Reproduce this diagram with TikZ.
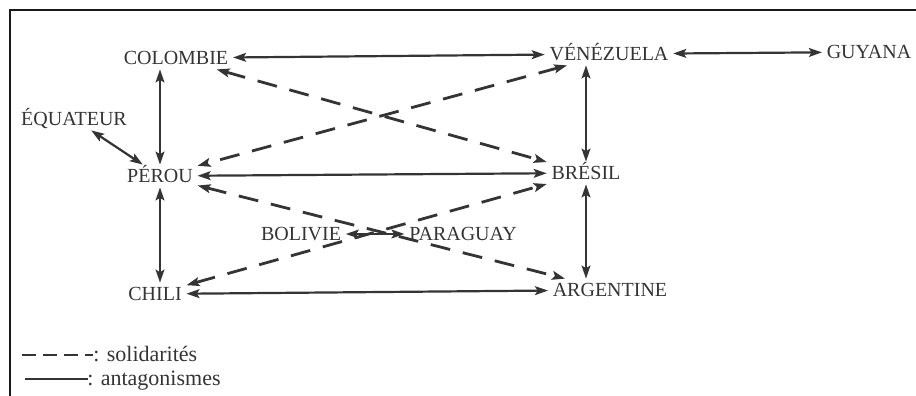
\documentclass[tikz,border=0pt]{standalone}
\usepackage{fontspec}
\setmainfont{Liberation Serif}
\usepackage{xcolor}
\usetikzlibrary{arrows.meta,positioning}

\definecolor{ink}{RGB}{52,52,52}

\begin{document}
\begin{tikzpicture}[
  x=0.5pt, y=-0.5pt,
  font=\fontsize{10}{11}\selectfont,
  pays/.style={text=ink, inner sep=2.2pt, text height=6.6pt, text depth=0pt},
  anta/.style={{Stealth[length=6.5pt,width=4.4pt,inset=1.3pt]}-{Stealth[length=6.5pt,width=4.4pt,inset=1.3pt]}, draw=ink, line width=1.1pt},
  soli/.style={anta, line width=1.4pt, dash pattern=on 10pt off 6.5pt},
  legtext/.style={text=ink, inner sep=0pt, anchor=base west, font=\fontsize{11}{12}\selectfont},
  frame/.style={draw=black!90, line width=1.3pt}
]
\useasboundingbox (0,0) rectangle (916,396);
\draw[frame] (10,396) -- (10,10) -- (916,10);

% pays
\node[pays] (colombie) at (176,58) {COLOMBIE};
\node[pays] (venezuela) at (609,54) {VÉNÉZUELA};
\node[pays] (guyana) at (869,52) {GUYANA};
\node[pays] (equateur) at (74,119) {ÉQUATEUR};
\node[pays] (perou) at (160,176) {PÉROU};
\node[pays] (bresil) at (586,173) {BRÉSIL};
\node[pays] (bolivie) at (301,234) {BOLIVIE};
\node[pays] (paraguay) at (463,234) {PARAGUAY};
\node[pays] (chili) at (155,294) {CHILI};
\node[pays] (argentine) at (610,290) {ARGENTINE};

% antagonismes
\draw[anta] (colombie) -- (venezuela);
\draw[anta] (venezuela) -- (guyana);
\draw[anta] (equateur) -- (perou);
\draw[anta] (perou |- colombie.south) -- (perou);
\draw[anta] (bresil |- venezuela.south) -- (bresil);
\draw[anta] (perou) -- (bresil);
\draw[anta] (perou) -- (perou |- chili.north);
\draw[anta] (bresil) -- (bresil |- argentine.north);
\draw[anta] (chili) -- (argentine);
\draw[anta] (bolivie) -- (paraguay);

% solidarites
\draw[soli] (colombie) -- (bresil);
\draw[soli] (venezuela) -- (perou);
\draw[soli] (perou) -- (argentine);
\draw[soli] (chili) -- (bresil);

% legende
\coordinate (solA) at (22,355);
\coordinate (solB) at (93,355);
\coordinate (antA) at (25,379);
\coordinate (antB) at (88,379);
\draw[draw=ink, line width=1.2pt, dash pattern=on 7pt off 3.5pt] (solA) -- (solB);
\draw[draw=ink, line width=1.1pt] (antA) -- (antB);
\node[legtext] (soltxt) at (93,361) {: solidarités};
\node[legtext] (anttxt) at (87,385) {: antagonismes};
\end{tikzpicture}
\end{document}
